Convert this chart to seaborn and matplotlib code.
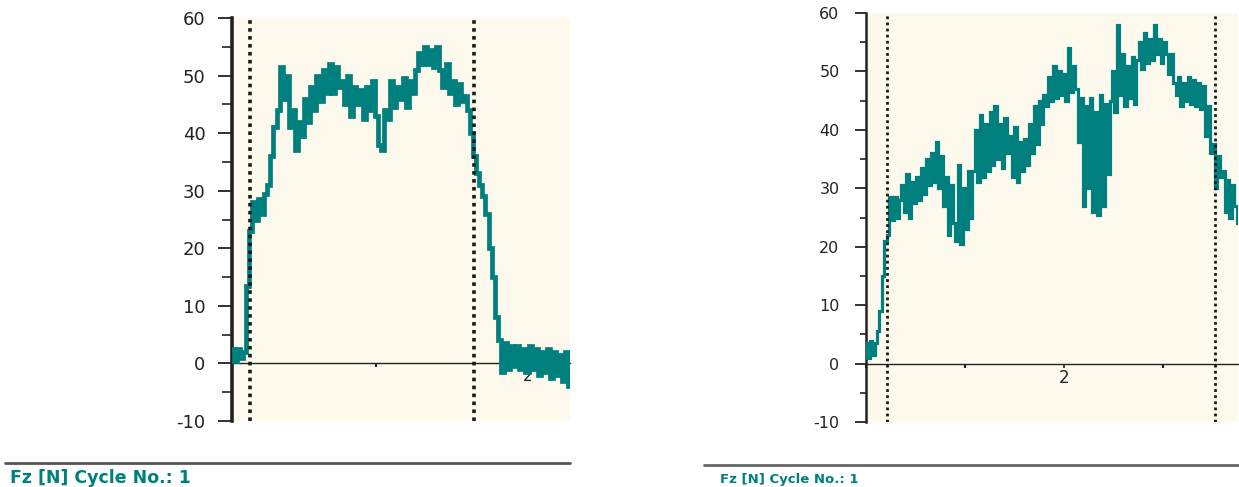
import numpy as np
import pandas as pd
import seaborn as sns
import matplotlib
matplotlib.use("Agg")
import matplotlib.pyplot as plt
from matplotlib.ticker import MultipleLocator, FixedLocator
from matplotlib.lines import Line2D

# ---- data -------------------------------------------------------------
# Fz force trace [N], left recording (uniformly sampled over its time window)
left_t_start, left_t_end = 1.026, 2.138
left_fz = [2.5, 0.5, 2.5, 1, 2, 13.5,
           23, 28, 25, 28.5, 26, 29.5, 31, 36, 41,
           44, 51.5, 46, 50, 41, 44, 37, 42, 39.5,
           46, 42, 48, 44, 50, 45.5, 51, 47, 52, 47, 51.5, 48,
           49, 45, 50, 43, 48, 45, 47.5, 42.5, 48, 44, 49, 43,
           38, 37, 44, 42.5, 49, 44.5, 48, 46, 49.5, 44.5, 49, 47,
           51, 54, 52, 55, 52, 54.5, 51.5, 55, 51, 48, 52,
           47, 49, 45, 48.5, 45.5, 46.5, 44, 40, 36, 33, 31, 29,
           26, 20, 15, 8, 4, -1.5, 3.5, -1, 3, -0.5,
           3, -1, 2.5, -1.5, 3, -1, 2.5, -2, 2, -1.5, 2.5, -2.5,
           2, -2, 1.5, -3, 2, -4]
left_markers = [1.085, 1.822]

# Fz force trace [N], right recording
right_t_start, right_t_end = 1.0, 2.879
right_fz = [3.5, 1, 3.8, 1.5, 3.5, 5.5, 9, 15, 21,
            22, 28.5, 24.5, 28.5, 25, 28,
            30.5, 26, 32.5, 25, 31, 27.5, 32, 28, 33.5, 29,
            35, 30.5, 36, 31, 38, 30, 35.5, 27, 32,
            22, 30.5, 24, 21, 34, 20.5, 30, 23, 33, 25, 33,
            40, 31, 42.5, 32, 41, 33, 43,
            34, 44, 35, 41, 33.5, 42, 36,
            39, 32, 40.5, 31, 38, 33, 38.5, 34, 41, 36,
            44, 37.5, 45, 41, 46, 44, 49, 45,
            51, 45.5, 50, 46, 49.5, 45, 54, 46.5, 51,
            47, 38, 45.5,
            27, 44, 30, 45.5, 26, 43, 25.5, 46, 27, 44.5,
            32.5, 45, 50, 43, 58, 46,
            53, 44, 51, 45.5, 52.5, 44.5, 52,
            55, 50.5, 56.5, 51.5, 55.5,
            52, 58, 53, 55.5, 51.5, 55, 53,
            49.5, 53, 48,
            46, 49, 44, 48, 45, 49, 44.5, 48.5, 44, 48, 43.5, 47.5,
            39, 44, 36, 37.5, 30, 35.5, 32,
            33, 26, 31.5, 25, 30.5, 27, 24]
right_markers = [1.106, 2.763]

y_ticks = [-10, 0, 10, 20, 30, 40, 50, 60]
x_ticks = [2]
caption = "Fz [N] Cycle No.: 1"

TEAL = "#007f7f"
PANEL_BG = "#fef9ed"

sns.set_theme(style="white")
plt.rcParams["font.family"] = ["DejaVu Sans"]

fig = plt.figure(figsize=(12.39, 4.87), dpi=100)

ax_l = fig.add_axes([232 / 1239, 1 - 421 / 487, 338 / 1239, 403 / 487])
ax_r = fig.add_axes([866 / 1239, 1 - 422 / 487, 372 / 1239, 409 / 487])

panels = [
    (ax_l, left_t_start, left_t_end, left_fz, left_markers,
     dict(spine_w=2.6, lw=3.4, tick_len=10, minor_len=7, lab=13, pad=9,
          dot_w=2.6, xlab=11)),
    (ax_r, right_t_start, right_t_end, right_fz, right_markers,
     dict(spine_w=1.8, lw=2.3, tick_len=8, minor_len=4.5, lab=11.5, pad=11,
          dot_w=2.0, xlab=12)),
]

for ax, t0, t1, fz, markers, st in panels:
    df = pd.DataFrame({"t": np.linspace(t0, t1, len(fz)), "fz": fz})
    ax.set_facecolor(PANEL_BG)
    sns.lineplot(data=df, x="t", y="fz", ax=ax, color=TEAL, lw=st["lw"],
                 estimator=None, drawstyle="steps-mid", zorder=3,
                 solid_joinstyle="miter")
    for m in markers:
        ax.axvline(m, color="#1a1a1a", lw=st["dot_w"],
                   ls=(0, (1, 1.2)), zorder=4)
    ax.set_xlim(t0, t1)
    ax.set_ylim(-10, 60)
    ax.set_xlabel("")
    ax.set_ylabel("")

    for side in ("top", "right"):
        ax.spines[side].set_visible(False)
    ax.spines["left"].set_color("#222222")
    ax.spines["left"].set_linewidth(st["spine_w"])
    ax.spines["bottom"].set_position(("data", 0))
    ax.spines["bottom"].set_color("#222222")
    ax.spines["bottom"].set_linewidth(1.0)
    ax.spines["bottom"].set_zorder(2)

    ax.yaxis.set_major_locator(FixedLocator(y_ticks))
    ax.yaxis.set_minor_locator(MultipleLocator(5))
    ax.set_yticklabels([str(v) for v in y_ticks])
    ax.tick_params(axis="y", which="major", direction="out", left=True,
                   length=st["tick_len"], width=1.3, color="#222222",
                   labelsize=st["lab"], pad=st["pad"], labelcolor="#222222")
    ax.tick_params(axis="y", which="minor", direction="out", left=True,
                   length=st["minor_len"], width=1.2, color="#222222")

    ax.xaxis.set_major_locator(FixedLocator(x_ticks))
    ax.xaxis.set_minor_locator(MultipleLocator(0.5))
    ax.set_xticklabels([str(v) for v in x_ticks])
    ax.tick_params(axis="x", which="major", direction="out", bottom=True,
                   length=3, width=1.2, color="#222222",
                   labelsize=st["xlab"], pad=1, labelcolor="#222222")
    ax.tick_params(axis="x", which="minor", direction="out", bottom=True,
                   length=3, width=1.5, color="#222222")
    ax.grid(False)

# captions beneath each panel
fig.add_artist(Line2D([5 / 1239, 570 / 1239], [1 - 463 / 487] * 2,
                      transform=fig.transFigure, color="#555555", lw=2))
fig.text(10 / 1239, 1 - 478 / 487, caption, color=TEAL, fontsize=12.5,
         fontweight="bold", va="center", ha="left")
fig.add_artist(Line2D([704 / 1239, 1239 / 1239], [1 - 465 / 487] * 2,
                      transform=fig.transFigure, color="#666666", lw=2))
fig.text(720 / 1239, 1 - 480 / 487, caption, color=TEAL, fontsize=9.5,
         fontweight="bold", va="center", ha="left")

fig.savefig("out.png", dpi=100, facecolor="white")
